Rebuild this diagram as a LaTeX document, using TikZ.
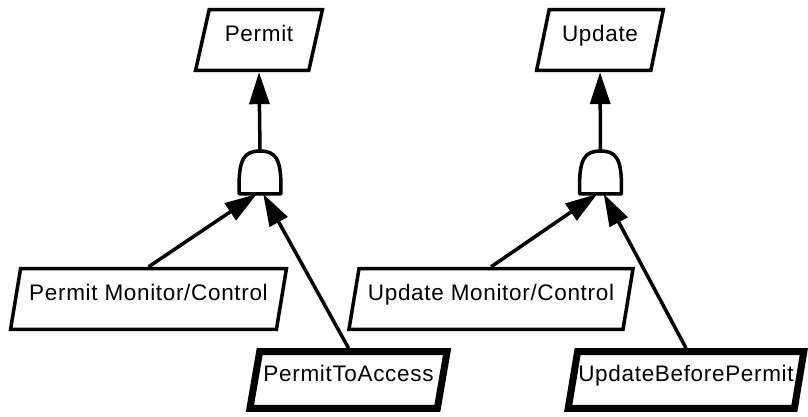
\documentclass[tikz,border=0pt]{standalone}
\usepackage{fontspec}
\newfontfamily\lblfont[LetterSpace=3]{Liberation Sans}
\usetikzlibrary{arrows.meta,shapes.geometric}
\tikzset{
  event/.style={trapezium,trapezium left angle=72,trapezium right angle=108,trapezium stretches=true,
    draw=black,fill=white,line width=0.0875cm,inner sep=0pt,minimum height=1.52cm,
    text height=0.4cm,text depth=0.32cm,font=\lblfont\fontsize{16}{19}\selectfont},
  basic/.style={event,line width=0.175cm,minimum height=1.42cm},
  gate/.style={minimum width=1.03cm,minimum height=1.06cm,inner sep=0pt},
  gateline/.style={draw=black,line width=0.0875cm,line join=round},
  arr/.style={-{Triangle[length=0.8cm,width=0.5cm]},draw=black,line width=0.0875cm}
}
\begin{document}
\begin{tikzpicture}[x=0.025cm,y=-0.025cm]
\useasboundingbox (0,0) rectangle (808,416);
% top events
\node[event,minimum width=3.18cm] (permit) at (259,40) {Permit};
\node[event,minimum width=3.18cm] (update) at (600,40) {Update};
% and gates
\node[gate] (andP) at (260,172.5) {};
\node[gate] (andU) at (600.5,172.5) {};
\foreach \g in {andP,andU}{
  \draw[gateline] (\g.south west) -- (\g.south east) -- ([yshift=0.12cm]\g.south east)
    .. controls ([xshift=0.015cm,yshift=0.35cm]\g.east) and ([xshift=-0.135cm]\g.north east) .. (\g.north)
    .. controls ([xshift=0.135cm]\g.north west) and ([xshift=-0.015cm,yshift=0.35cm]\g.west) .. ([yshift=0.12cm]\g.south west) -- cycle;
}
% lower events
\node[event,minimum width=6.9cm] (pmc) at (148.5,299) {Permit Monitor/Control};
\node[event,minimum width=7.12cm] (umc) at (491,299) {Update Monitor/Control};
\node[basic,minimum width=4.93cm] (pta) at (348.5,380) {PermitToAccess};
\node[basic,minimum width=5.9cm] (ubp) at (686,380) {UpdateBeforePermit};
% connectors
\draw[arr] (andP.north) -- (permit.south);
\draw[arr] (andU.north) -- (update.south);
\draw[arr] (pmc.north) -- ([xshift=-0.08cm]andP.south);
\draw[arr] (pta.north) -- ([xshift=0.08cm]andP.south);
\draw[arr] (umc.north) -- ([xshift=-0.08cm]andU.south);
\draw[arr] (ubp.north) -- ([xshift=0.08cm]andU.south);
\end{tikzpicture}
\end{document}
